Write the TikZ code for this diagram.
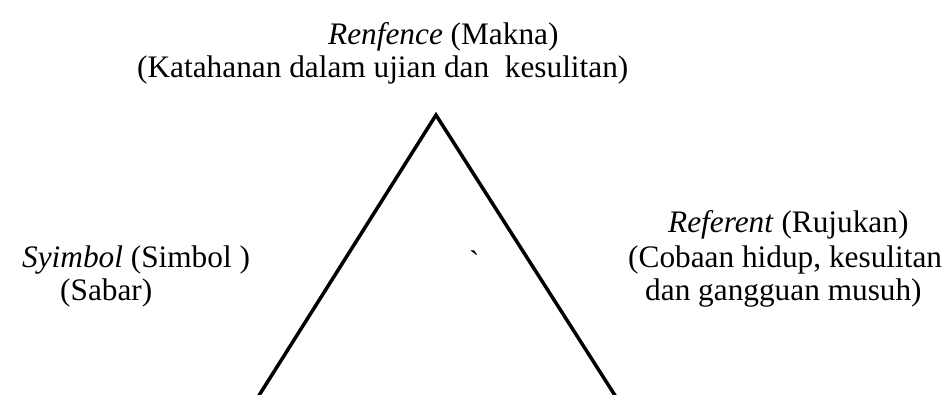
\documentclass[tikz,border=0pt]{standalone}
\usepackage{fontspec}
\setmainfont{Liberation Serif}
\begin{document}
\begin{tikzpicture}[x=1pt,y=-1pt,
  lbl/.style={inner sep=0pt,anchor=base west,font=\fontsize{31.3}{33}\selectfont},
  edge/.style={line width=3.5pt,line join=miter}]
\useasboundingbox (0,0) rectangle (952,395);
% triangle
\coordinate (apex) at (436,115);
\coordinate (bl) at (258,397);
\coordinate (br) at (616,397);
\draw[edge] (bl) -- (apex) -- (br);
% top label
\node[lbl] (t1) at (328,45) {\textit{Renfence} (Makna)};
\node[lbl] (t2) at (137,78) {(Katahanan dalam ujian dan\ \ kesulitan)};
% left label
\node[lbl] (s1) at (22,267) {\textit{Syimbol} (Simbol )};
\node[lbl] (s2) at (60,300) {(Sabar)};
% right label
\node[lbl] (r1) at (668,233) {\textit{Referent} (Rujukan)};
\node[lbl] (r2) at (628,267) {(Cobaan hidup, kesulitan};
\node[lbl] (r3) at (645,300) {dan gangguan musuh)};
% stray mark
\node[lbl] (bt) at (469,272) {\textasciigrave};
\end{tikzpicture}
\end{document}
